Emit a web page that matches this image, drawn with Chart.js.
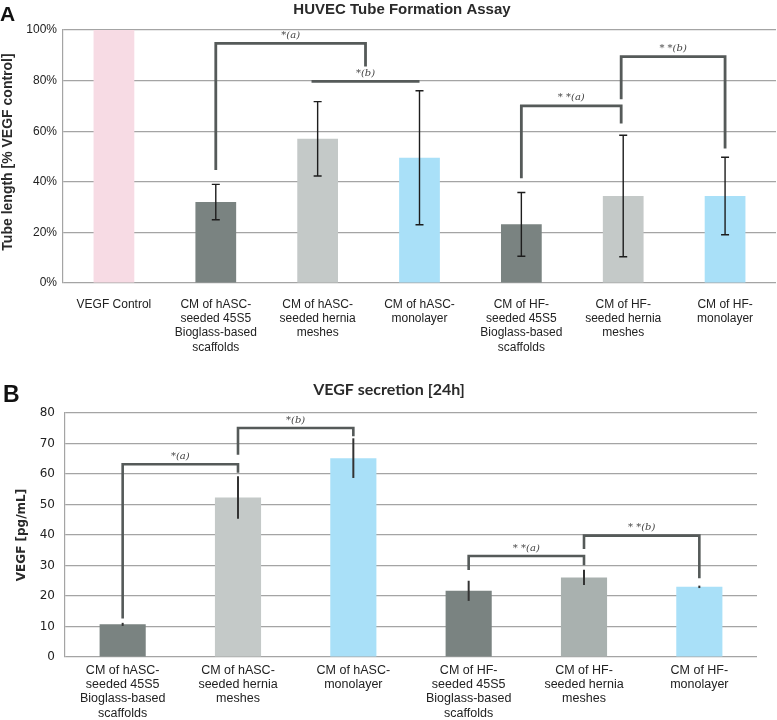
<!DOCTYPE html>
<html>
<head>
<meta charset="utf-8">
<script src="https://cdn.jsdelivr.net/npm/chart.js@4.4.0/dist/chart.umd.min.js"></script>
<style>
  html, body { margin: 0; padding: 0; background: #fff; }
  canvas { display: block; }
</style>
</head>
<body>
<canvas id="tubeChart" width="777" height="360"></canvas>
<canvas id="vegfChart" width="777" height="360"></canvas>
<script>
// ---- panel A data ----
const tubeLabels = [
    ['VEGF Control'],
    ['CM of hASC-', 'seeded 45S5', 'Bioglass-based', 'scaffolds'],
    ['CM of hASC-', 'seeded hernia', 'meshes'],
    ['CM of hASC-', 'monolayer'],
    ['CM of HF-', 'seeded 45S5', 'Bioglass-based', 'scaffolds'],
    ['CM of HF-', 'seeded hernia', 'meshes'],
    ['CM of HF-', 'monolayer']
];
const tubeValues = [100, 32, 57, 49.5, 23.2, 34.4, 34.4];
const tubeErrors = [0, 7, 14.7, 26.5, 12.6, 24, 15.3];
const tubeTicks = [0, 20, 40, 60, 80, 100];
// [from index, to index, level, left end, right end, label]
const tubeBrackets = [
    [1, 2.47, 94.7, 44.7, 85.6, '*(a)'],
    [1.94, 3, 79.7, 79.7, 79.7, '*(b)'],
    [4, 4.98, 70, 41.4, 63, '* *(a)'],
    [4.98, 6, 89.5, 72.6, 53.2, '* *(b)']
];

// ---- panel B data ----
const vegfLabels = [
    ['CM of hASC-', 'seeded 45S5', 'Bioglass-based', 'scaffolds'],
    ['CM of hASC-', 'seeded hernia', 'meshes'],
    ['CM of hASC-', 'monolayer'],
    ['CM of HF-', 'seeded 45S5', 'Bioglass-based', 'scaffolds'],
    ['CM of HF-', 'seeded hernia', 'meshes'],
    ['CM of HF-', 'monolayer']
];
const vegfValues = [10.7, 52.3, 65.2, 21.7, 26.1, 23];
const vegfErrors = [0.5, 7, 6.5, 3.3, 2.5, 0.4];
const vegfTicks = [0, 10, 20, 30, 40, 50, 60, 70, 80];
const vegfBrackets = [
    [0, 1, 63.2, 12.6, 60.4, '*(a)'],
    [1, 2, 75.1, 66.3, 72.4, '*(b)'],
    [3, 4, 33.1, 28.5, 30.1, '* *(a)'],
    [4, 5, 39.8, 35.4, 25.8, '* *(b)']
];

const tubeColors = ['#f7dbe4', '#7a8381', '#c4c9c8', '#a9e0f8', '#7a8381', '#c4c9c8', '#a9e0f8'];
const vegfColors = ['#7a8381', '#c4c9c8', '#a9e0f8', '#7a8381', '#a9b1af', '#a9e0f8'];
const gridGray = '#a4a4a4';

//error bars + significance brackets
const marks = {
    id: 'marks',
    afterDatasetsDraw(chart, args, o) {
        const ctx = chart.ctx;
        const x = chart.scales.x;
        const y = chart.scales.y;
        const vals = chart.data.datasets[0].data;
        ctx.save();
        ctx.strokeStyle = o.errColor;
        ctx.lineWidth = o.errWidth;
        chart.getDatasetMeta(0).data.forEach((bar, i) => {
            const e = o.errors[i];
            if (!e) return;
            const t = y.getPixelForValue(vals[i] + e);
            const b = y.getPixelForValue(vals[i] - e);
            ctx.beginPath();
            ctx.moveTo(bar.x, t);
            ctx.lineTo(bar.x, b);
            if (o.cap) {
                ctx.moveTo(bar.x - o.cap, t);
                ctx.lineTo(bar.x + o.cap, t);
                ctx.moveTo(bar.x - o.cap, b);
                ctx.lineTo(bar.x + o.cap, b);
            }
            ctx.stroke();
        });

        ctx.strokeStyle = '#555a59';
        ctx.lineWidth = o.brWidth;
        ctx.lineJoin = 'miter';
        ctx.fillStyle = '#444';
        ctx.font = 'italic 10px "DejaVu Serif", serif';
        ctx.textAlign = 'center';
        ctx.textBaseline = 'middle';
        o.brackets.forEach(([a, b, lvl, l, r, txt]) => {
            const xa = x.getPixelForValue(a);
            const xb = x.getPixelForValue(b);
            const yl = y.getPixelForValue(lvl);
            ctx.beginPath();
            ctx.moveTo(xa, y.getPixelForValue(l));
            ctx.lineTo(xa, yl);
            ctx.lineTo(xb, yl);
            ctx.lineTo(xb, y.getPixelForValue(r));
            ctx.stroke();
            ctx.fillText(txt, (xa + xb) / 2, yl - 8);
        });
        ctx.restore();
    }
};

//panel letter, title and rotated y title
const panelText = {
    id: 'panelText',
    afterDraw(chart, args, o) {
        const ctx = chart.ctx;
        ctx.save();
        ctx.fillStyle = '#111';
        ctx.textAlign = 'left';
        ctx.textBaseline = 'alphabetic';
        ctx.font = o.letterFont;
        ctx.fillText(o.letter, o.letterX, o.letterY);
        ctx.fillStyle = '#2a2a2a';
        ctx.font = o.titleFont;
        ctx.textAlign = 'center';
        ctx.textBaseline = 'middle';
        ctx.fillText(o.title, o.titleX, o.titleY);
        ctx.translate(o.axisX, o.axisY);
        ctx.rotate(-Math.PI / 2);
        ctx.font = o.axisFont;
        ctx.fillText(o.axisTitle, 0, 0);
        ctx.restore();
    }
};

function makeChart(el, labels, values, colors, cfg) {
    return new Chart(el, {
        type: 'bar',
        data: {
            labels: labels,
            datasets: [{
                data: values,
                backgroundColor: colors,
                borderWidth: 0,
                barPercentage: 0.4,
                categoryPercentage: 1
            }]
        },
        options: {
            responsive: false,
            animation: false,
            devicePixelRatio: 1,
            layout: { padding: cfg.padding },
            scales: {
                x: {
                    grid: { display: false, drawTicks: false },
                    border: { display: false },
                    ticks: {
                        autoSkip: false,
                        maxRotation: 0,
                        padding: cfg.xPad,
                        color: '#222',
                        font: cfg.xFont
                    },
                    afterFit: s => { s.height = cfg.xHeight; }
                },
                y: {
                    min: 0,
                    max: cfg.ticks[cfg.ticks.length - 1],
                    afterBuildTicks: s => { s.ticks = cfg.ticks.map(v => ({ value: v })); },
                    grid: { color: gridGray, lineWidth: 1.2, drawTicks: false },
                    border: { display: true, color: gridGray, width: 1.2 },
                    ticks: {
                        padding: cfg.yPad,
                        color: '#222',
                        font: cfg.yFont,
                        callback: cfg.fmt
                    },
                    afterFit: s => { s.width = cfg.yWidth; }
                }
            },
            plugins: {
                legend: { display: false },
                tooltip: { enabled: false },
                marks: cfg.marks,
                panelText: cfg.text
            }
        },
        plugins: [marks, panelText]
    });
}

makeChart(document.getElementById('tubeChart'), tubeLabels, tubeValues, tubeColors, {
    padding: { top: 30, right: 1, left: 0, bottom: 0 },
    ticks: tubeTicks,
    fmt: v => v + '%',
    xPad: 14,
    xHeight: 77,
    yWidth: 63,
    yPad: 6,
    xFont: { family: '"Liberation Sans", Arial, sans-serif', size: 12, lineHeight: 1.2 },
    yFont: { family: '"Liberation Sans", Arial, sans-serif', size: 12 },
    marks: { errors: tubeErrors, brackets: tubeBrackets, errColor: '#1d1d1d', errWidth: 1.4, cap: 4, brWidth: 2.8 },
    text: {
        letter: 'A', letterX: 0, letterY: 21, letterFont: 'bold 21px "Liberation Sans", Arial, sans-serif',
        title: 'HUVEC Tube Formation Assay', titleX: 402, titleY: 10,
        titleFont: 'bold 15px "Liberation Sans", Arial, sans-serif',
        axisTitle: 'Tube length [% VEGF control]', axisX: 8, axisY: 152,
        axisFont: 'bold 14px "Liberation Sans", Arial, sans-serif'
    }
});

makeChart(document.getElementById('vegfChart'), vegfLabels, vegfValues, vegfColors, {
    padding: { top: 53, right: 20, left: 0, bottom: 0 },
    ticks: vegfTicks,
    fmt: v => v,
    xPad: 6,
    xHeight: 63,
    yWidth: 65,
    yPad: 10,
    xFont: { family: '"Liberation Sans", Arial, sans-serif', size: 12.5, lineHeight: 1.15 },
    yFont: { family: '"DejaVu Sans", sans-serif', size: 12 },
    marks: { errors: vegfErrors, brackets: vegfBrackets, errColor: '#333', errWidth: 2, cap: 0, brWidth: 2.6 },
    text: {
        letter: 'B', letterX: 3, letterY: 42, letterFont: 'bold 23px "Liberation Sans", Arial, sans-serif',
        title: 'VEGF secretion [24h]', titleX: 389, titleY: 30,
        titleFont: 'bold 16px Lato, "Liberation Sans", sans-serif',
        axisTitle: 'VEGF [pg/mL]', axisX: 22, axisY: 175,
        axisFont: 'bold 12px "DejaVu Sans", sans-serif'
    }
});
</script>
</body>
</html>
